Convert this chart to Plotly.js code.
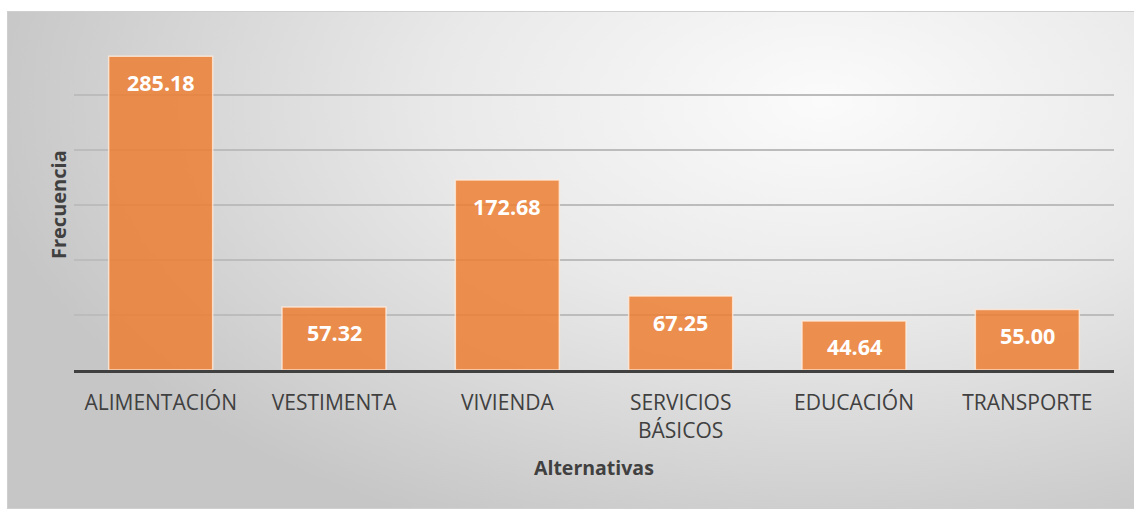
<!DOCTYPE html>
<html>
<head>
<meta charset="utf-8">
<script src="https://cdn.plot.ly/plotly-3.0.1.min.js"></script>
<style>
  html, body { margin: 0; padding: 0; background: #ffffff; }
  #wrap { position: relative; width: 1134px; height: 510px; overflow: hidden; }
  #bg {
    position: absolute; left: 7px; top: 11px; width: 1130px; height: 496px;
    border: 1px solid #cfcfcf;
    background: radial-gradient(ellipse 75% 95% at 72% 18%, #fbfbfb 0%, #e9e9e9 45%, #d3d3d3 80%, #c6c6c6 100%);
  }
  #chart { position: absolute; left: 0; top: 0; width: 1134px; height: 510px; }
</style>
</head>
<body>
<div id="wrap">
  <div id="bg"></div>
  <div id="chart"></div>
</div>
<script>
const categories = ["ALIMENTACIÓN", "VESTIMENTA", "VIVIENDA", "SERVICIOS BÁSICOS", "EDUCACIÓN", "TRANSPORTE"];
const tickLabels = ["ALIMENTACIÓN", "VESTIMENTA", "VIVIENDA", "SERVICIOS<br>BÁSICOS", "EDUCACIÓN", "TRANSPORTE"];
const values = [285.18, 57.32, 172.68, 67.25, 44.64, 55.00];
const xTitle = "Alternativas";
const yTitle = "Frecuencia";

const FONT = "Open Sans, Liberation Sans, sans-serif";

const trace = {
  type: "bar",
  x: categories,
  y: values,
  marker: {
    color: "rgba(237,125,49,0.84)",
    line: { color: "rgba(255,235,220,0.8)", width: 1.5 }
  },
  hoverinfo: "x+y"
};

const labelAnnotations = categories.map((c, i) => ({
  x: c, y: values[i], xref: "x", yref: "y",
  text: "<b>" + values[i].toFixed(2) + "</b>",
  showarrow: false, yanchor: "middle", yshift: -26,
  font: { family: FONT, size: 21.5, color: "#ffffff" }
}));

const layout = {
  width: 1134, height: 510,
  margin: { l: 74, r: 20, t: 40, b: 140 },
  paper_bgcolor: "rgba(0,0,0,0)",
  plot_bgcolor: "rgba(0,0,0,0)",
  bargap: 0.4,
  showlegend: false,
  font: { family: FONT, color: "#404040" },
  xaxis: {
    tickmode: "array", tickvals: categories, ticktext: tickLabels,
    tickfont: { family: FONT, size: 21, color: "#404040" },
    showline: true, linecolor: "#404040", linewidth: 3,
    ticks: "", showgrid: false, zeroline: false,
    ticklabelstandoff: 12,
    fixedrange: true
  },
  yaxis: {
    range: [0, 300], dtick: 50, tick0: 0,
    showticklabels: false, ticks: "",
    showgrid: true, gridcolor: "#bcbcbc", gridwidth: 1.5,
    zeroline: false, showline: false, fixedrange: true
  },
  annotations: labelAnnotations.concat([
    { text: "<b>" + xTitle + "</b>", xref: "paper", yref: "paper", x: 0.5, y: 0, yshift: -97,
      showarrow: false, xanchor: "center", yanchor: "middle",
      font: { family: FONT, size: 19.5, color: "#404040" } },
    { text: "<b>" + yTitle + "</b>", xref: "paper", yref: "paper", x: 0, y: 0.5, xshift: -16,
      showarrow: false, textangle: -90, xanchor: "center", yanchor: "middle",
      font: { family: FONT, size: 20, color: "#404040" } }
  ])
};

Plotly.newPlot("chart", [trace], layout, { displayModeBar: false, staticPlot: true });
</script>
</body>
</html>
